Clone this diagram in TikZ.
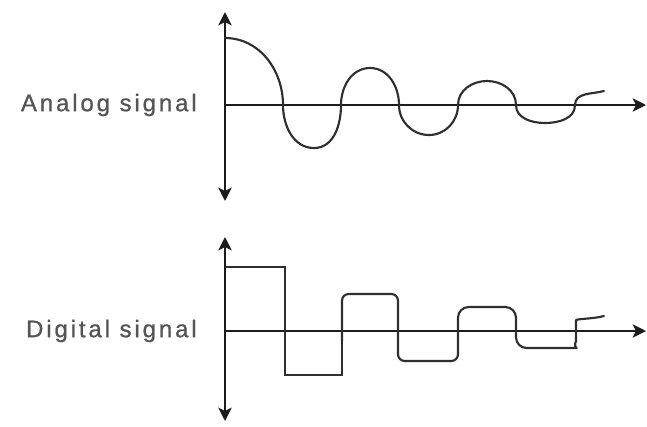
\documentclass[tikz,border=0pt]{standalone}
\usepackage{fontspec}
\usepackage{tikz}
\usetikzlibrary{arrows.meta, positioning}
\newfontfamily\lblfont{Liberation Sans}[LetterSpace=12, FakeBold=0.9]
\definecolor{sigaxis}{HTML}{1c1c1c}
\definecolor{sigwave}{HTML}{2f2f2f}
\definecolor{siglabel}{HTML}{555555}

\begin{document}
\begin{tikzpicture}[
    x=0.75pt, y=0.75pt,
    vaxis/.style={{Stealth[length=10pt, width=10pt, inset=2.5pt]}-{Stealth[length=10pt, width=10pt, inset=2.5pt]}, line width=1.6pt, sigaxis},
    haxis/.style={-{Stealth[length=10pt, width=10pt, inset=2.5pt]}, line width=1.4pt, sigaxis},
    wave/.style={line width=1.6pt, sigwave, line join=round, line cap=round},
    lbl/.style={inner sep=0pt, text=siglabel, font=\lblfont\fontsize{18pt}{20pt}\selectfont}
]
\useasboundingbox (0,0) rectangle (647,-426);

% Axes
\coordinate (aorig) at (225,-105);
\coordinate (atop)  at (225,-12);
\coordinate (abot)  at (225,-201);
\coordinate (aend)  at (646,-105);

\coordinate (dorig) at (225,-331);
\coordinate (dtop)  at (225,-237);
\coordinate (dbot)  at (225,-421);
\coordinate (dend)  at (646,-331);

% Labels
\node[lbl, left=21pt of aorig] (analog) {Analog signal};
\node[lbl, left=21pt of dorig] (digital) {Digital signal};

% Connections
\draw[vaxis] (abot) -- (atop);
\draw[haxis] (aorig) -- (aend);
\draw[vaxis] (dbot) -- (dtop);
\draw[haxis] (dorig) -- (dend);

% Analog wave
\draw[wave] (225,-38) to[out=0,in=90] (283,-105)
    to[out=-90,in=180] (314,-148) to[out=0,in=-90] (341,-105)
    to[out=90,in=180] (370,-68) to[out=0,in=90] (399,-105)
    to[out=-90,in=180] (429,-135) to[out=0,in=-90] (458,-105)
    to[out=90,in=180] (487,-81) to[out=0,in=90] (516,-105)
    to[out=-90,in=180] (545,-123) to[out=0,in=-90] (575,-105)
    to[out=90,in=195] (604,-91);

% Digital wave
\draw[wave, line cap=butt, line join=miter] (225,-267) -- (285,-267) -- (285,-375) -- (342,-375) -- (342,-340);
\draw[wave, rounded corners=5pt] (342,-341) -- (342,-294) -- (398,-294) -- (398,-361) -- (458,-361) -- (458,-330);
\draw[wave, rounded corners=8pt] (458,-331) -- (458,-307) -- (516,-307) -- (516,-348) -- (566,-348) to[out=0,in=-90] (576,-331)
    to[out=90,in=195] (604,-316);
\end{tikzpicture}
\end{document}
